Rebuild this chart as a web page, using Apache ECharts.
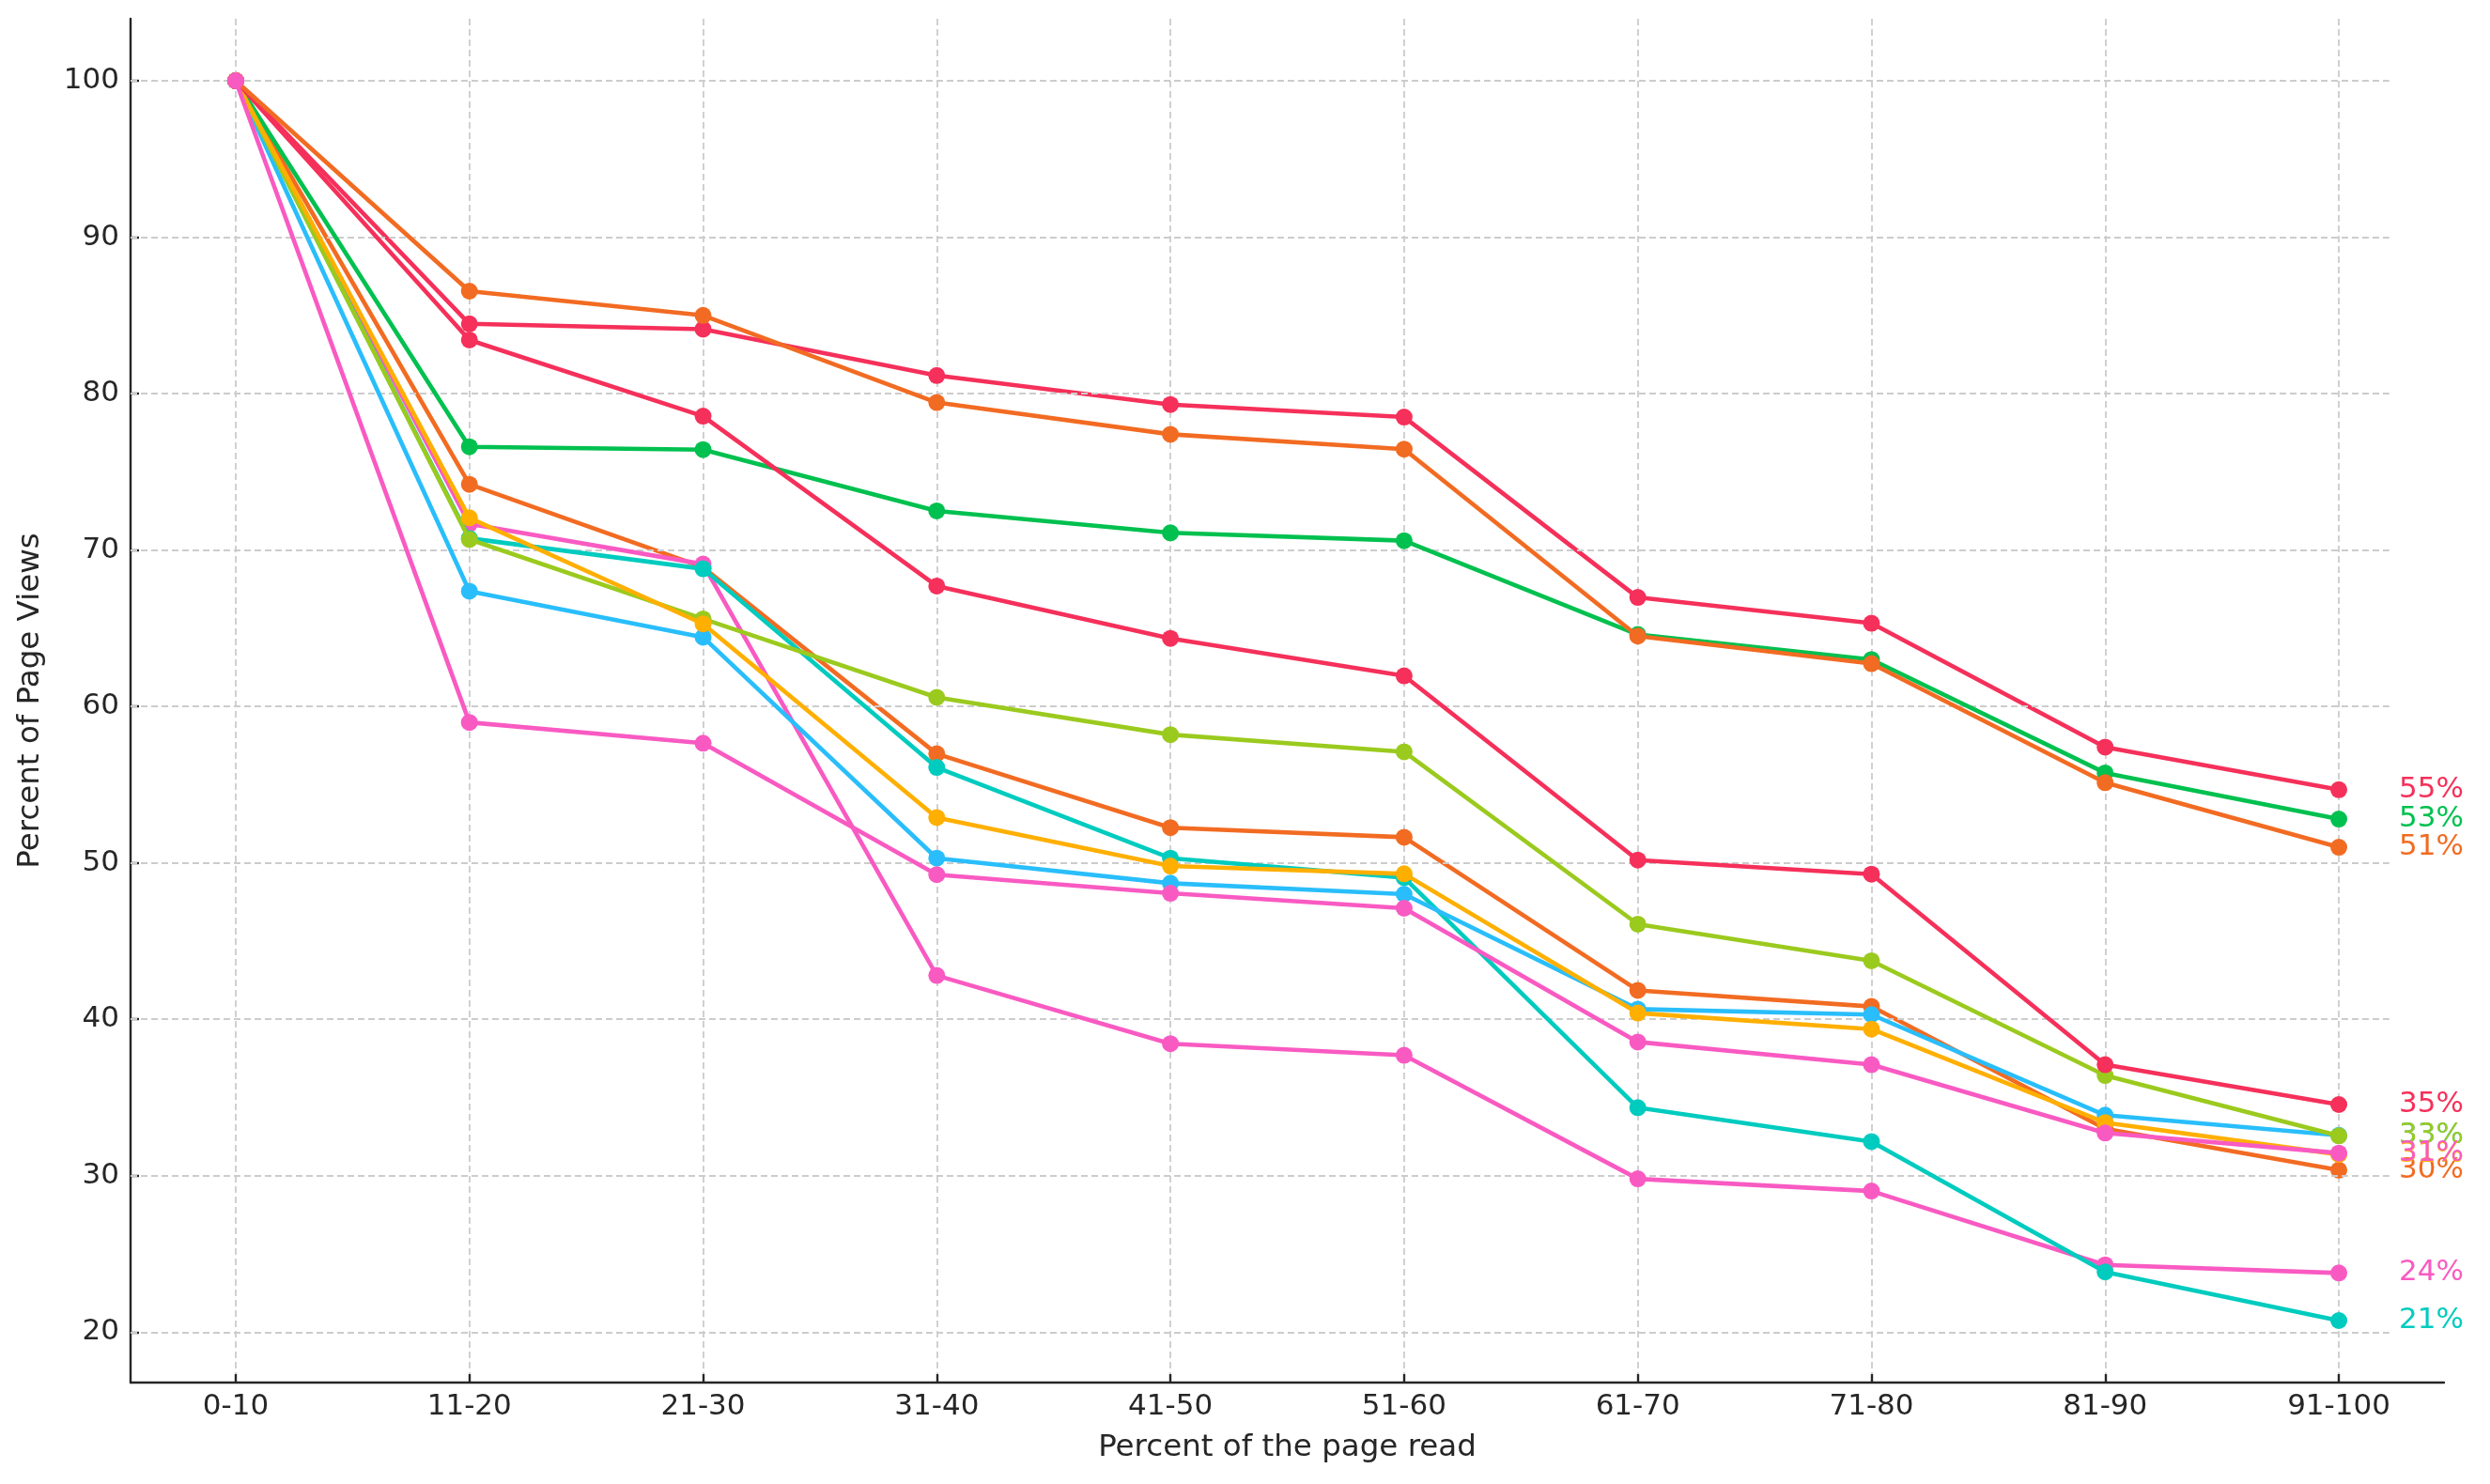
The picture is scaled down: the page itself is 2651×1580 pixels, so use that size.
<!DOCTYPE html>
<html>
<head>
<meta charset="utf-8">
<script src="https://cdn.jsdelivr.net/npm/echarts@6/dist/echarts.min.js"></script>
<style>
html,body{margin:0;padding:0;background:#ffffff;}
#chart{width:2651px;height:1580px;}
</style>
</head>
<body>
<div id="chart"></div>
<script>
// ---- data ----
const categories = ['0-10','11-20','21-30','31-40','41-50','51-60','61-70','71-80','81-90','91-100'];
const yTickValues = [20,30,40,50,60,70,80,90,100];

const redA        = [100, 84.46, 84.12, 81.16, 79.30, 78.50, 66.97, 65.32, 57.40, 54.68];
const orangeLow   = [100, 74.20, 68.90, 56.97, 52.25, 51.64, 41.85, 40.82, 33.00, 30.36];
const pinkA       = [100, 71.67, 69.10, 42.80, 38.44, 37.70, 29.80, 29.02, 24.30, 23.78];
const green       = [100, 76.60, 76.42, 72.50, 71.10, 70.60, 64.60, 63.00, 55.75, 52.80];
const teal        = [100, 70.75, 68.80, 56.10, 50.30, 49.06, 34.35, 32.18, 23.85, 20.74];
const blue        = [100, 67.37, 64.43, 50.30, 48.70, 48.00, 40.65, 40.30, 33.87, 32.58];
const yellowGreen = [100, 70.68, 65.60, 60.58, 58.20, 57.10, 46.08, 43.74, 36.41, 32.55];
const yellow      = [100, 72.06, 65.28, 52.90, 49.80, 49.30, 40.40, 39.37, 33.40, 31.36];
const redB        = [100, 83.43, 78.56, 67.70, 64.35, 61.96, 50.18, 49.28, 37.10, 34.55];
const orangeTop   = [100, 86.55, 85.00, 79.43, 77.40, 76.45, 64.50, 62.74, 55.13, 51.00];
const pinkB       = [100, 58.98, 57.65, 49.25, 48.06, 47.10, 38.55, 37.10, 32.73, 31.45];

// drawing order (later = on top)
const seriesValues = [redA, orangeLow, pinkA, green, teal, blue, yellowGreen, yellow, redB, orangeTop, pinkB];
const seriesColors = ['#F5305A','#F26B22','#F95AC2','#00C04F','#00CBBF','#29BEFB','#9BCA1E','#FFAF00','#F5305A','#F26B22','#F95AC2'];

// ---- chart ----
const FONT = "'DejaVu Sans', sans-serif";
const TEXT = '#262626';
const GRID = '#cccccc';
const xIdx = categories.map((c, i) => i);

const allVals = [].concat(...seriesValues);
const lo = Math.min(...allVals), hi = Math.max(...allVals);
const pad = (hi - lo) * 0.05;
const xPad = (categories.length - 1) * 0.05;
const xMin = -xPad, xMax = categories.length - 1 + xPad;
const hGridEnd = categories.length - 1 + 0.216; // horizontal grid lines stop short of the right spine

const series = seriesValues.map((vals, k) => ({
  type: 'line',
  data: vals.map((v, i) => [i, v]),
  symbol: 'circle',
  symbolSize: 18,
  showAllSymbol: true,
  lineStyle: {color: seriesColors[k], width: 4.6},
  itemStyle: {color: seriesColors[k], borderWidth: 0},
  emphasis: {disabled: true},
  endLabel: {
    show: true,
    formatter: p => Math.round(p.value[1]) + '%',
    color: seriesColors[k],
    fontFamily: FONT,
    fontSize: 31,
    distance: 64
  },
  z: 3 + k
}));

// horizontal grid lines (dashed) as mark lines through the axis scales
series.unshift({
  type: 'line',
  data: [],
  silent: true,
  z: 1,
  markLine: {
    silent: true,
    symbol: 'none',
    label: {show: false},
    emphasis: {disabled: true},
    lineStyle: {color: GRID, width: 1.8, type: [7, 4]},
    data: yTickValues.map(v => [{coord: [xMin, v]}, {coord: [hGridEnd, v]}])
  }
});

const chart = echarts.init(document.getElementById('chart'), null, {renderer: 'canvas'});
chart.setOption({
  animation: false,
  backgroundColor: '#ffffff',
  grid: {left: 139, right: 49, top: 20, bottom: 108},
  xAxis: {
    type: 'value',
    min: xMin,
    max: xMax,
    name: 'Percent of the page read',
    nameLocation: 'middle',
    nameGap: 53,
    nameTextStyle: {fontFamily: FONT, fontSize: 32.5, color: TEXT},
    axisLine: {show: true, onZero: false, lineStyle: {color: TEXT, width: 2.4}},
    axisTick: {show: true, inside: true, length: 9, customValues: xIdx, lineStyle: {color: TEXT, width: 2.4}},
    axisLabel: {customValues: xIdx, formatter: v => categories[Math.round(v)], fontFamily: FONT, fontSize: 31, color: TEXT, margin: 10},
    splitLine: {show: true, lineStyle: {color: GRID, width: 1.8, type: [7, 4]}}
  },
  yAxis: {
    type: 'value',
    min: lo - pad,
    max: hi + pad,
    name: 'Percent of Page Views',
    nameLocation: 'middle',
    nameGap: 90,
    nameRotate: 90,
    nameTextStyle: {fontFamily: FONT, fontSize: 32.5, color: TEXT},
    axisLine: {show: true, onZero: false, lineStyle: {color: TEXT, width: 2.4}},
    axisTick: {show: true, inside: true, length: 9, customValues: yTickValues, lineStyle: {color: TEXT, width: 2.4}},
    axisLabel: {customValues: yTickValues, fontFamily: FONT, fontSize: 31, color: TEXT, margin: 12},
    splitLine: {show: false}
  },
  series: series
});
</script>
</body>
</html>
